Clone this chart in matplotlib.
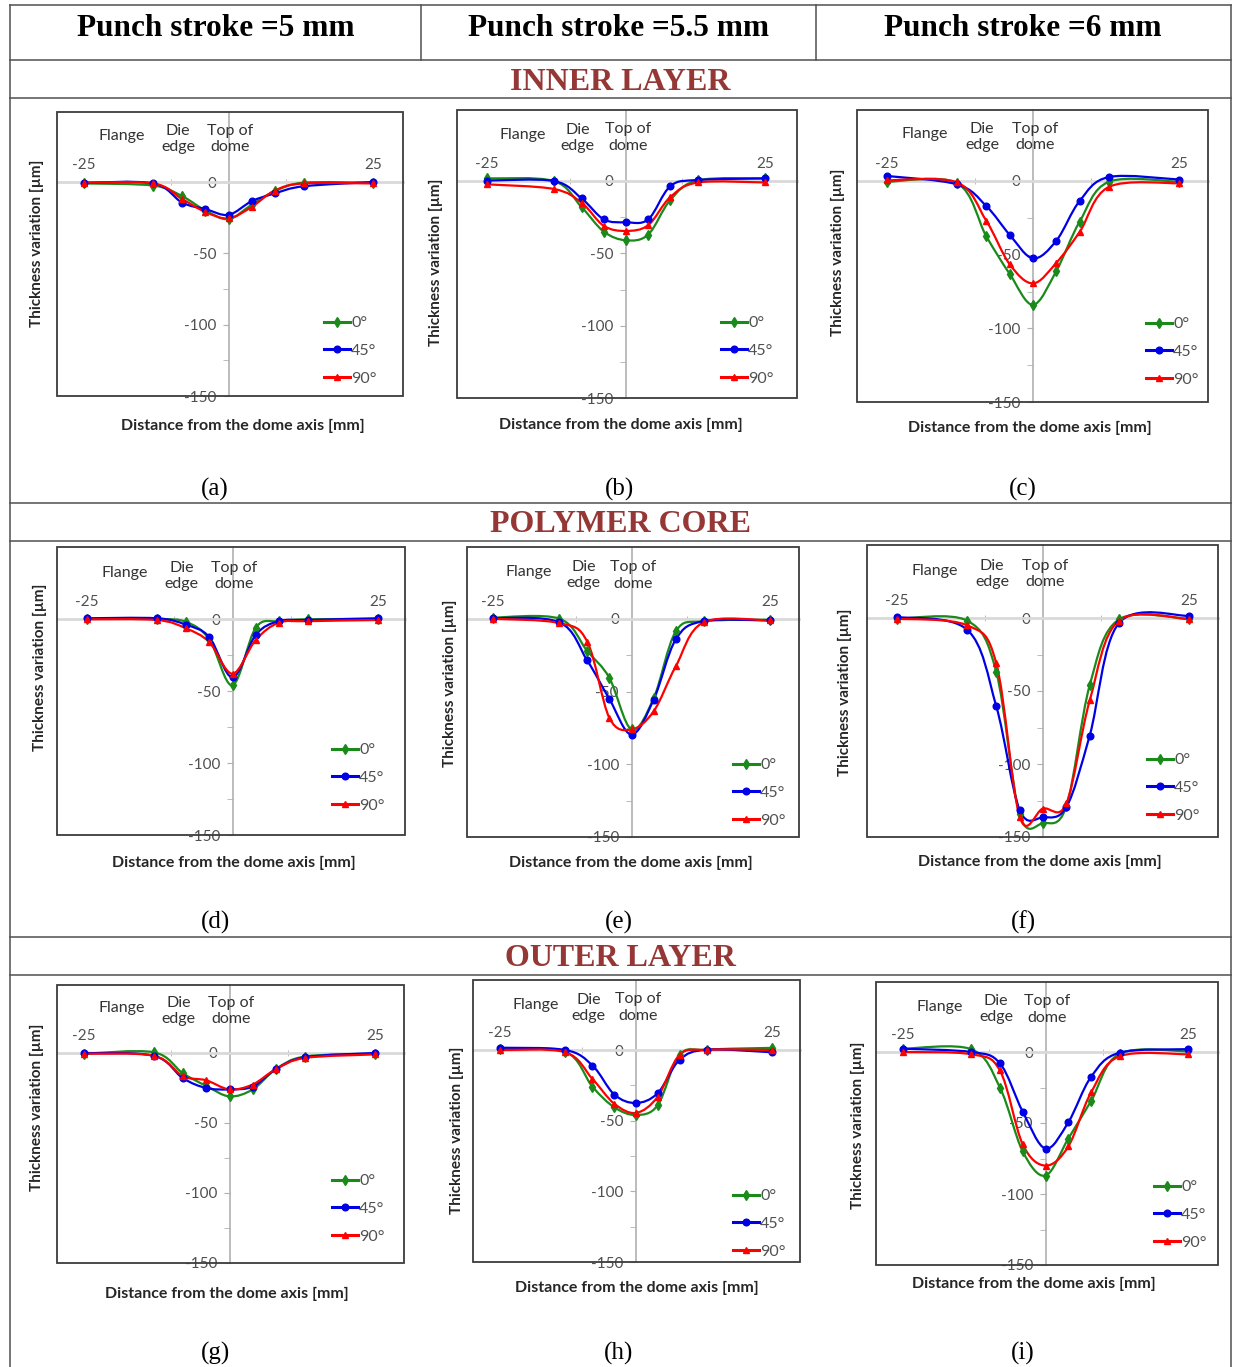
import matplotlib
matplotlib.use("Agg")
import matplotlib.pyplot as plt
from matplotlib.path import Path
from matplotlib.patches import PathPatch, Rectangle
from matplotlib.lines import Line2D
import numpy as np

plt.rcParams['font.family'] = ['Lato', 'DejaVu Sans']
plt.rcParams['axes.unicode_minus'] = False

W, H = 1233, 1367

# distance from the dome axis [mm], same stations in every panel
dist = [-25, -13, -8, -4, 0, 4, 8, 13, 25]
angles = ["0°", "45°", "90°"]
colors = ["#1a8a1a", "#0000e6", "#ff0000"]
markers = ["d", "o", "^"]

strokes = ["Punch stroke =5 mm", "Punch stroke =5.5 mm", "Punch stroke =6 mm"]
layers = ["INNER LAYER", "POLYMER CORE", "OUTER LAYER"]
sublabels = ["(a)", "(b)", "(c)", "(d)", "(e)", "(f)", "(g)", "(h)", "(i)"]

# thickness variation [µm]; rows are 0°, 45°, 90°
inner_5mm = [[-1, -2.5, -10, -20, -26, -16, -6.5, -0.5, -0.5],
             [-0.5, -1, -14.5, -19, -23, -13.5, -8, -3, 0],
             [-0.5, -1, -12, -21, -25.5, -17.5, -6, -1, -1]]
inner_55mm = [[1.8, 0, -18, -35, -41, -37, -13, 0.5, 1.8],
              [0.3, 0, -12, -26.5, -28.5, -26.5, -3.5, 0.7, 1.8],
              [-2.3, -5.5, -15, -31, -34.5, -30.5, -11, -1, -1]]
inner_6mm = [[-0.5, -1.5, -37.5, -63, -84, -61, -27.5, -0.5, -0.5],
             [3.4, -2.3, -17, -36.5, -52.5, -40.5, -13.5, 2.7, 1],
             [0.5, -1, -27, -56.5, -69.5, -55.5, -34.5, -4, -1.5]]
core_5mm = [[0, 0, -2, -14, -46, -6, -1.5, -0.2, 0],
            [0.5, 0.5, -4, -12.5, -40.5, -11, -1.5, -0.7, 0.5],
            [-0.2, -0.7, -6.5, -16, -38, -14.5, -2.5, -1.5, -0.7]]
core_55mm = [[1, 0.2, -22, -40.5, -76, -54.5, -8.5, -1.5, -0.5],
             [0.7, -2.3, -28.5, -55, -79.5, -55.5, -14, -1.5, -1],
             [0.2, -2.8, -15.5, -68, -76, -63.5, -32.5, -2.3, -1]]
core_6mm = [[-0.5, -1.8, -37, -134.5, -140.5, -129, -46, -1, -0.7],
            [0.7, -8, -60.5, -131.5, -136.5, -129.5, -80.5, -3.5, 1.5],
            [-0.5, -5, -31, -136, -130.5, -127, -56.5, -1.8, -0.7]]
outer_5mm = [[-0.5, 0.5, -14.5, -23.5, -31, -26, -11.5, -2.5, -0.5],
             [0, -2, -18, -25, -26, -24, -11.5, -3, 0],
             [-0.5, -2, -16.5, -19.5, -26, -22.5, -11.5, -3.5, -1]]
outer_55mm = [[0.7, -1.2, -26, -40.5, -46, -39, -3.5, 0.2, 1.5],
              [1.6, 0, -11, -31.5, -37.5, -30.5, -7, 0.2, -1.6],
              [0, -1.6, -20.5, -38, -44.5, -33, -3.5, 0.2, 0]]
outer_6mm = [[2.3, 1.9, -25, -70, -87, -61, -34.5, -1.2, 0.5],
             [2.3, 0, -8, -42, -68, -49.5, -17.5, -0.5, 2],
             [0, -1.6, -13, -65, -80, -66.5, -28.5, -3, -1.6]]

panels = [inner_5mm, inner_55mm, inner_6mm,
          core_5mm, core_55mm, core_6mm,
          outer_5mm, outer_55mm, outer_6mm]

# pixel layout: box (l, t, r, b), px of x=-25, px of x=25, px of y=0
boxes = [(57, 112, 403, 396, 84, 373, 182),
         (457, 110, 797, 398, 487, 765, 181),
         (857, 110, 1208, 402, 887, 1179, 181),
         (57, 547, 405, 835, 87, 378, 619),
         (467, 547, 799, 837, 493, 770, 619),
         (867, 545, 1218, 837, 897, 1189, 618),
         (57, 985, 404, 1263, 84, 375, 1053),
         (473, 980, 800, 1262, 500, 772, 1050),
         (876, 982, 1218, 1265, 903, 1188, 1052)]
# legend top-left (px), y label centre, x label centre
leg_pos = [(324, 316), (721, 316), (1146, 317), (332, 743), (733, 758),
           (1147, 753), (332, 1174), (733, 1189), (1154, 1180)]
ylab_pos = [(37, 243), (436, 262), (838, 252), (40, 667), (450, 683),
            (845, 692), (37, 1107), (457, 1130), (858, 1125)]
xlab_pos = [(243, 426), (621, 425), (1030, 428), (234, 863), (631, 863),
            (1040, 862), (227, 1294), (637, 1288), (1034, 1284)]


def smooth_path(x, y):
    pts = np.column_stack([x, y]).astype(float)
    n = len(pts)
    verts = [pts[0]]
    codes = [Path.MOVETO]
    for i in range(n - 1):
        p0 = pts[i - 1] if i > 0 else pts[i]
        p1 = pts[i]
        p2 = pts[i + 1]
        p3 = pts[i + 2] if i + 2 < n else pts[i + 1]
        verts += [p1 + (p2 - p0) / 6, p2 - (p3 - p1) / 6, p2]
        codes += [Path.CURVE4] * 3
    return Path(verts, codes)


def fx(x):
    return x / W


def fy(y):
    return 1 - y / H


fig = plt.figure(figsize=(W / 100, H / 100), dpi=100)

# table rules
lc = "#505050"
for y in [5, 60, 98, 503, 541, 937, 975]:
    fig.add_artist(Line2D([fx(10), fx(1231)], [fy(y), fy(y)], color=lc, lw=1.1))
for x in [10, 1231]:
    fig.add_artist(Line2D([fx(x), fx(x)], [fy(5), fy(1367)], color=lc, lw=1.1))
for x in [421, 816]:
    fig.add_artist(Line2D([fx(x), fx(x)], [fy(5), fy(60)], color=lc, lw=1.1))

for cx, s in zip([216, 619, 1023], strokes):
    fig.text(fx(cx), fy(28), s, ha="center", va="center", fontsize=22.5,
             fontweight="bold", family="Liberation Serif")
for cy, s in zip([83, 525, 959], layers):
    fig.text(fx(620), fy(cy), s, ha="center", va="center", fontsize=23,
             fontweight="bold", family="Liberation Serif", color="#953735")
for k, s in enumerate(sublabels):
    cx = [215, 619, 1023][k % 3]
    cy = [489, 922, 1353][k // 3]
    fig.text(fx(cx), fy(cy), s, ha="center", va="center", fontsize=18,
             family="Liberation Serif")

for k, data in enumerate(panels):
    l, t, r, b, xm, xp, y0 = boxes[k]
    ax = fig.add_axes([fx(l), fy(b), (r - l) / W, (b - t) / H])
    sx = (xp - xm) / 50
    xc = (xm + xp) / 2
    sy = (b - y0) / 150
    ax.set_xlim((l - xc) / sx, (r - xc) / sx)
    ax.set_ylim(-150, (y0 - t) / sy)
    ax.patch.set_alpha(0)

    ax.spines["right"].set_visible(False)
    ax.spines["bottom"].set_visible(False)
    ax.spines["left"].set_position(("data", 0))
    ax.spines["top"].set_position(("data", 0))
    ax.spines["left"].set_color("#b0b0b0")
    ax.spines["left"].set_linewidth(1.2)
    ax.spines["top"].set_color("#d9d9d9")
    ax.spines["top"].set_linewidth(2)
    ax.add_patch(Rectangle((0, 0), 1, 1, transform=ax.transAxes, fill=False,
                           edgecolor="#3c3c3c", lw=1.3, clip_on=False, zorder=5))

    ax.xaxis.set_ticks_position("top")
    ax.set_xticks([-25, 25])
    ax.set_xticks([-10, 10], minor=True)
    ax.tick_params(axis="x", which="major", length=0, pad=7, labelsize=11,
                   labelcolor="#505050")
    ax.tick_params(axis="x", which="minor", length=5, direction="inout",
                   color="#b0b0b0")
    ax.set_yticks([-150, -100, -50, 0])
    ax.set_yticks([-125, -75, -25], minor=True)
    ax.tick_params(axis="y", which="both", length=4, direction="out",
                   color="#b0b0b0", pad=5, labelsize=11, labelcolor="#505050")

    handles = []
    for j in range(3):
        ax.add_patch(PathPatch(smooth_path(dist, data[j]), fill=False,
                               edgecolor=colors[j], lw=1.6, zorder=3))
        ax.plot(dist, data[j], linestyle="none", marker=markers[j],
                color=colors[j], markersize=4.8, zorder=4)
        handles.append(Line2D([], [], color=colors[j], marker=markers[j],
                              markersize=4.8, lw=2.2))

    ax.text(-18.5, 32, "Flange", ha="center", va="center", fontsize=11.5,
            color="#333333")
    ax.text(-8.7, 30, "Die\nedge", ha="center", va="center", fontsize=11.5,
            color="#333333", linespacing=1.2)
    ax.text(0.3, 30, "Top of\ndome", ha="center", va="center", fontsize=11.5,
            color="#333333", linespacing=1.2)

    lx, ly = leg_pos[k]
    ax.legend(handles, angles, loc="upper left",
              bbox_to_anchor=(fx(lx), fy(ly)), bbox_transform=fig.transFigure,
              frameon=False, handlelength=1.6, handletextpad=0.1,
              labelspacing=0.85, borderpad=0, borderaxespad=0, fontsize=11.5,
              labelcolor="#505050")

    yx, yy = ylab_pos[k]
    fig.text(fx(yx), fy(yy), "Thickness variation [µm]", rotation=90,
             ha="center", va="center", fontsize=11, fontweight="bold",
             color="#262626")
    xx, xy = xlab_pos[k]
    fig.text(fx(xx), fy(xy), "Distance from the dome axis [mm]",
             ha="center", va="center", fontsize=11.5, fontweight="bold",
             color="#262626")

fig.savefig("out.png", dpi=100)
